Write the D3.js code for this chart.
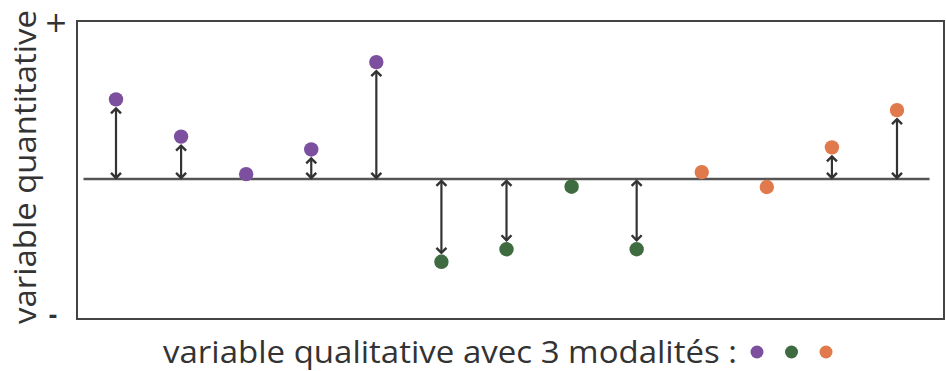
<!DOCTYPE html>
<html>
<head>
<meta charset="utf-8">
<script src="https://cdn.jsdelivr.net/npm/d3@7"></script>
<style>
  body { margin: 0; background: #fff; }
  text { font-family: "Open Sans", "Noto Sans", sans-serif; fill: #333; }
</style>
</head>
<body>
<div id="chart"></div>
<script>
// data
const groups = ["A", "A", "A", "A", "A", "B", "B", "B", "B", "C", "C", "C", "C"];
const values = [7.37, 6.12, 4.86, 5.69, 8.62, 1.92, 2.34, 4.44, 2.34, 4.93, 4.43, 5.76, 7.01];
const meanValue = 4.7;
const groupNames = ["A", "B", "C"];
const groupColors = ["#7c4f9f", "#3f6b40", "#e0794c"];
const yTickValues = [0, 10];
const yTickLabels = ["-", "+"];

const margin = { top: 21, right: 1, bottom: 52, left: 77 };
const width = 946 - margin.left - margin.right;
const height = 371 - margin.top - margin.bottom;

const svg = d3.select("#chart")
    .append("svg")
    .attr("width", 946)
    .attr("height", 371);

const defs = svg.append("defs");
defs.append("marker")
    .attr("id", "chev")
    .attr("viewBox", "-7 -7 14 14")
    .attr("refX", 0)
    .attr("refY", 0)
    .attr("markerWidth", 14)
    .attr("markerHeight", 14)
    .attr("markerUnits", "userSpaceOnUse")
    .attr("orient", "auto-start-reverse")
    .append("path")
    .attr("d", "M-5,-5 L0,0 L-5,5")
    .attr("fill", "none")
    .attr("stroke", "#333")
    .attr("stroke-width", 2.4);

const g = svg.append("g")
    .attr("transform", "translate(" + margin.left + "," + margin.top + ")");

const xScale = d3.scaleLinear()
    .domain([0, values.length - 1])
    .range([39, 820]);

const yScale = d3.scaleLinear()
    .domain([0, 10])
    .range([height, 0]);

const color = d3.scaleOrdinal().domain(groupNames).range(groupColors);

// frame
g.append("rect")
    .attr("x", 0)
    .attr("y", 0)
    .attr("width", width - 1)
    .attr("height", height)
    .attr("fill", "none")
    .attr("stroke", "#444")
    .attr("stroke-width", 2);

// mean line
g.append("line")
    .attr("x1", xScale(-0.5))
    .attr("x2", xScale(values.length - 0.5))
    .attr("y1", yScale(meanValue))
    .attr("y2", yScale(meanValue))
    .attr("stroke", "#555")
    .attr("stroke-width", 2.5);

// arrows (only where the gap is visible)
const yMean = yScale(meanValue);
const withArrow = values.map((v, i) => ({ v, i })).filter(d => Math.abs(yScale(d.v) - yMean) > 15);

g.selectAll(".arrow")
    .data(withArrow)
    .enter()
    .append("line")
    .attr("class", "arrow")
    .attr("x1", d => xScale(d.i))
    .attr("x2", d => xScale(d.i))
    .attr("y1", d => yScale(d.v) > yMean ? yMean + 2 : yMean - 1)
    .attr("y2", d => yScale(d.v) > yMean ? yScale(d.v) - 9 : yScale(d.v) + 9)
    .attr("stroke", "#333")
    .attr("stroke-width", 2.2)
    .attr("marker-start", "url(#chev)")
    .attr("marker-end", "url(#chev)");

// points
g.selectAll(".dot")
    .data(values)
    .enter()
    .append("circle")
    .attr("class", "dot")
    .attr("cx", (d, i) => xScale(i))
    .attr("cy", d => yScale(d))
    .attr("r", 7.2)
    .attr("fill", (d, i) => color(groups[i]));

// + / - labels
g.selectAll(".ytick")
    .data(yTickValues)
    .enter()
    .append("text")
    .attr("class", "ytick")
    .attr("x", (d, i) => i === 0 ? -24 : -21)
    .attr("y", d => yScale(d))
    .attr("dy", (d, i) => i === 0 ? "0.2em" : "0.38em")
    .style("text-anchor", "middle")
    .style("font-family", (d, i) => i === 0 ? null : "'DejaVu Sans', sans-serif")
    .style("font-size", (d, i) => i === 0 ? "26px" : "28px")
    .style("font-weight", (d, i) => i === 0 ? "bold" : "normal")
    .text((d, i) => yTickLabels[i]);

// y-axis label
svg.append("text")
    .attr("transform", "rotate(-90)")
    .attr("x", -167)
    .attr("y", 36)
    .style("text-anchor", "middle")
    .style("font-size", "31px")
    .attr("textLength", 314)
    .attr("lengthAdjust", "spacingAndGlyphs")
    .text("variable quantitative");

// x-axis label + legend dots
svg.append("text")
    .attr("x", 163)
    .attr("y", 363)
    .style("font-size", "31px")
    .attr("textLength", 574)
    .attr("lengthAdjust", "spacingAndGlyphs")
    .text("variable qualitative avec 3 modalités :");

const legendX = d3.scalePoint().domain(groupNames).range([757, 826]);
svg.selectAll(".leg")
    .data(groupNames)
    .enter()
    .append("circle")
    .attr("class", "leg")
    .attr("cx", d => legendX(d))
    .attr("cy", 352)
    .attr("r", 6.5)
    .attr("fill", d => color(d));
</script>
</body>
</html>
